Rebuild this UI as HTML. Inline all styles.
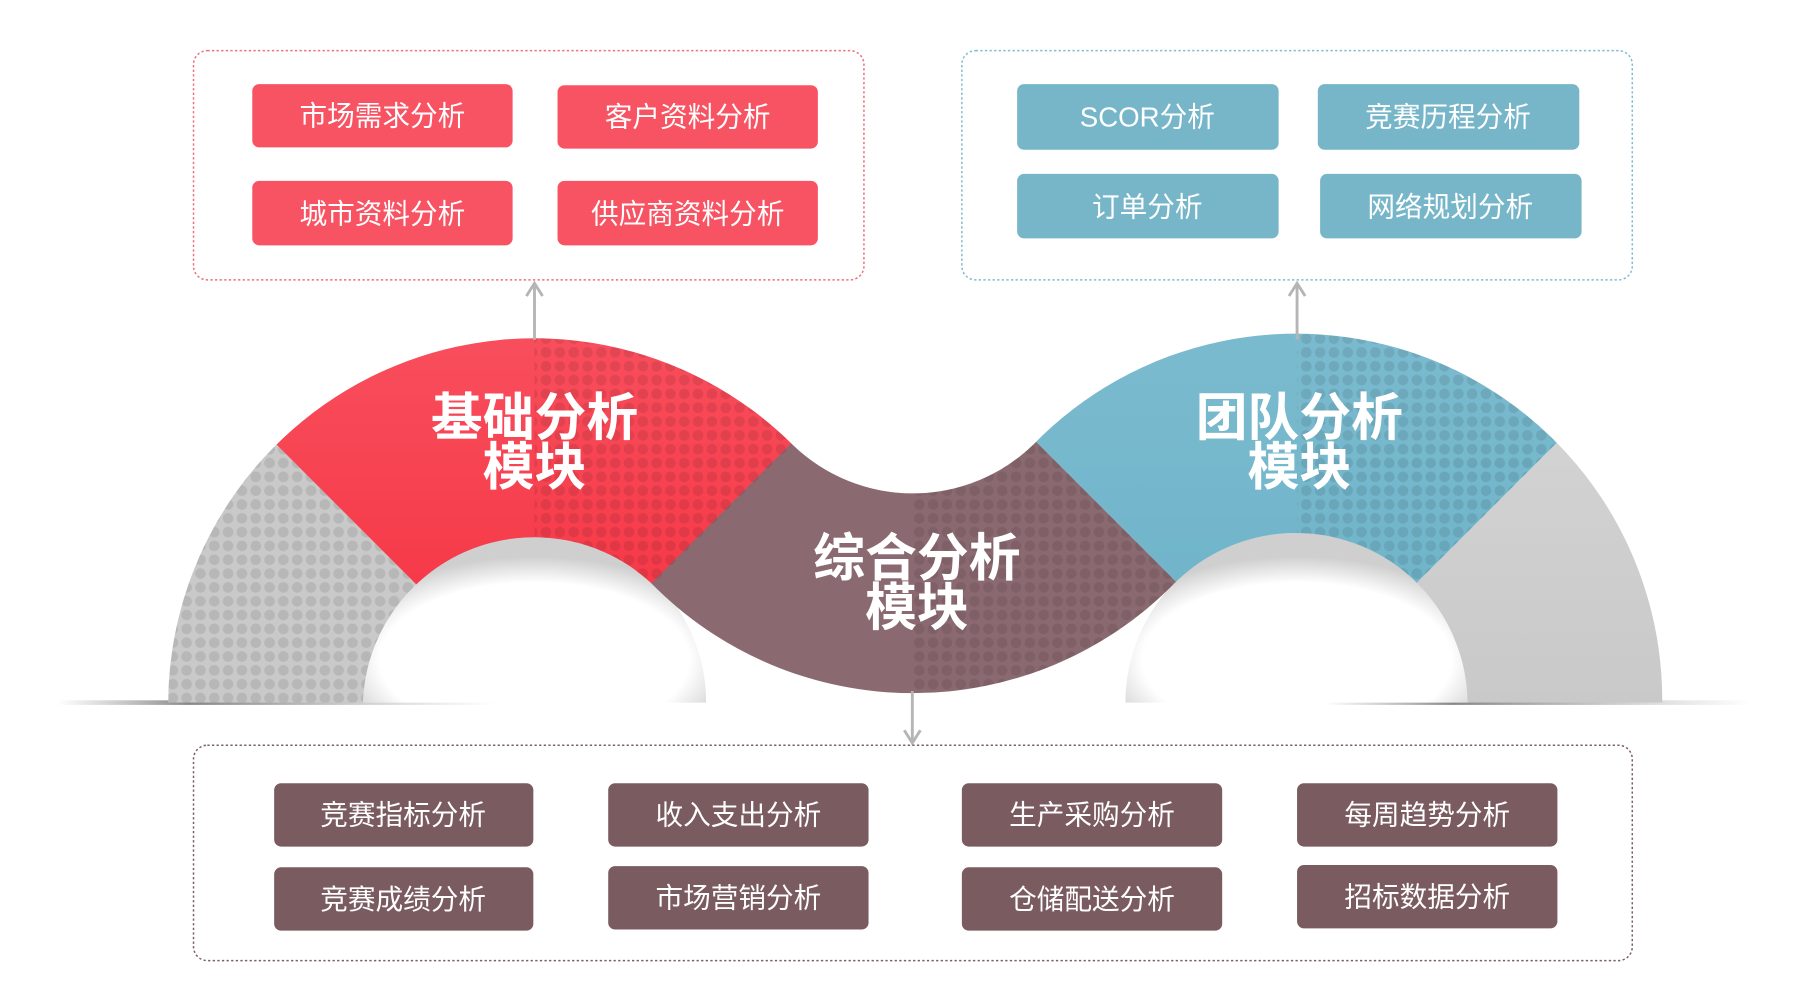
<!DOCTYPE html>
<html><head><meta charset="utf-8"><style>
html,body{margin:0;padding:0;background:#fff;}
svg{display:block}
text{font-family:"Liberation Sans","Noto Sans CJK SC",sans-serif;}
</style></head><body>
<svg width="1797" height="994" viewBox="0 0 1560 863" preserveAspectRatio="none" xmlns="http://www.w3.org/2000/svg">
<defs>
<pattern id="dots" width="12" height="12" patternUnits="userSpaceOnUse">
<circle cx="6" cy="6" r="4.6" fill="#000" fill-opacity="0.09"/>
</pattern>
<linearGradient id="gRed" x1="0" y1="0" x2="0" y2="1"><stop offset="0" stop-color="#fb6a78"/><stop offset="1" stop-color="#f5303f"/></linearGradient>
<linearGradient id="gBlue" x1="0" y1="0" x2="0" y2="1"><stop offset="0" stop-color="#88c2d4"/><stop offset="1" stop-color="#6cb2c8"/></linearGradient>
<linearGradient id="gGrayR" x1="0" y1="0" x2="0" y2="1"><stop offset="0" stop-color="#e2e2e2"/><stop offset="1" stop-color="#bdbdbd"/></linearGradient>
<radialGradient id="inShadow" cx="0.5" cy="0.75" r="0.6"><stop offset="0" stop-color="#fff"/><stop offset="0.75" stop-color="#fff"/><stop offset="1" stop-color="#cfcfcf"/></radialGradient>
<linearGradient id="baseL" x1="0" x2="1"><stop offset="0" stop-color="#999" stop-opacity="0"/><stop offset="0.3" stop-color="#888"/><stop offset="1" stop-color="#999" stop-opacity="0"/></linearGradient>
<clipPath id="band"><path d="M146,610 A318,318 0 0 1 688,386 A150,150 0 0 0 897,386 A318,318 0 0 1 1443,610 L1274,610 A149,149 0 0 0 1020,506 A318,318 0 0 1 565,506 A149,149 0 0 0 315,610 Z"/></clipPath>
</defs>

<rect x="50" y="608" width="380" height="4" fill="url(#baseL)"/>
<rect x="1150" y="608" width="370" height="4" fill="url(#baseL)"/>
<path d="M315,610 A149,149 0 0 1 613,610 Z" fill="url(#inShadow)"/>
<path d="M977,610 A149,149 0 0 1 1275,610 Z" fill="url(#inShadow)"/>

<g clip-path="url(#band)">
<polygon points="0,146 464,610 464,900 0,900" fill="#c9c9c9"/>
<polygon points="0,0 0,146 464,610 1074,0" fill="url(#gRed)"/>
<polygon points="794,278 1394,878 194,878" fill="#8a6a70"/>
<polygon points="516,0 1126,610 1736,0" fill="url(#gBlue)"/>
<polygon points="1736,0 1126,610 1126,900 1800,900" fill="url(#gGrayR)"/>
<polygon points="0,146 464,610 464,900 0,900" fill="url(#dots)"/>
<polygon points="464,0 1074,0 464,610" fill="url(#dots)"/>
<polygon points="792,276 1394,878 792,878" fill="url(#dots)"/>
<polygon points="1126,0 1736,0 1126,610" fill="url(#dots)"/>
</g>

<g fill="#fff" font-weight="bold" font-size="45" text-anchor="middle">
<text x="464" y="378">基础分析</text><text x="464" y="421">模块</text>
<text x="796" y="500">综合分析</text><text x="796" y="543">模块</text>
<text x="1128" y="378">团队分析</text><text x="1128" y="421">模块</text>
</g>

<g stroke="#b5b5b5" stroke-width="2.5" fill="none">
<line x1="464" y1="295" x2="464" y2="247"/><polyline points="457,257 464,246 471,257"/>
<line x1="1126" y1="295" x2="1126" y2="247"/><polyline points="1119,257 1126,246 1133,257"/>
<line x1="792" y1="600" x2="792" y2="644"/><polyline points="785,634 792,645 799,634"/>
</g>

<rect x="168" y="44" width="582" height="199" rx="12" fill="none" stroke="#ee6f7e" stroke-width="1.3" stroke-dasharray="2,2"/>
<rect x="835" y="44" width="582" height="199" rx="12" fill="none" stroke="#80bcd0" stroke-width="1.3" stroke-dasharray="2,2"/>
<rect x="168" y="647" width="1249" height="187" rx="12" fill="none" stroke="#7d6066" stroke-width="1.3" stroke-dasharray="2,2"/>

<g font-size="24" text-anchor="middle" fill="#fff">
<rect x="219" y="73" width="226" height="55" rx="6" fill="#f85363"/><text x="332" y="109">市场需求分析</text>
<rect x="484" y="74" width="226" height="55" rx="6" fill="#f85363"/><text x="597" y="110">客户资料分析</text>
<rect x="219" y="157" width="226" height="56" rx="6" fill="#f85363"/><text x="332" y="194">城市资料分析</text>
<rect x="484" y="157" width="226" height="56" rx="6" fill="#f85363"/><text x="597" y="194">供应商资料分析</text>

<rect x="883" y="73" width="227" height="57" rx="6" fill="#76b6c8"/><text x="996" y="110">SCOR分析</text>
<rect x="1144" y="73" width="227" height="57" rx="6" fill="#76b6c8"/><text x="1257" y="110">竞赛历程分析</text>
<rect x="883" y="151" width="227" height="56" rx="6" fill="#76b6c8"/><text x="996" y="188">订单分析</text>
<rect x="1146" y="151" width="227" height="56" rx="6" fill="#76b6c8"/><text x="1259" y="188">网络规划分析</text>

<rect x="238" y="680" width="225" height="55" rx="6" fill="#7a5b60"/><text x="350" y="716">竞赛指标分析</text>
<rect x="528" y="680" width="226" height="55" rx="6" fill="#7a5b60"/><text x="641" y="716">收入支出分析</text>
<rect x="835" y="680" width="226" height="55" rx="6" fill="#7a5b60"/><text x="948" y="716">生产采购分析</text>
<rect x="1126" y="680" width="226" height="55" rx="6" fill="#7a5b60"/><text x="1239" y="716">每周趋势分析</text>
<rect x="238" y="753" width="225" height="55" rx="6" fill="#7a5b60"/><text x="350" y="789">竞赛成绩分析</text>
<rect x="528" y="752" width="226" height="55" rx="6" fill="#7a5b60"/><text x="641" y="788">市场营销分析</text>
<rect x="835" y="753" width="226" height="55" rx="6" fill="#7a5b60"/><text x="948" y="789">仓储配送分析</text>
<rect x="1126" y="751" width="226" height="55" rx="6" fill="#7a5b60"/><text x="1239" y="787">招标数据分析</text>
</g>
</svg>
</body></html>
